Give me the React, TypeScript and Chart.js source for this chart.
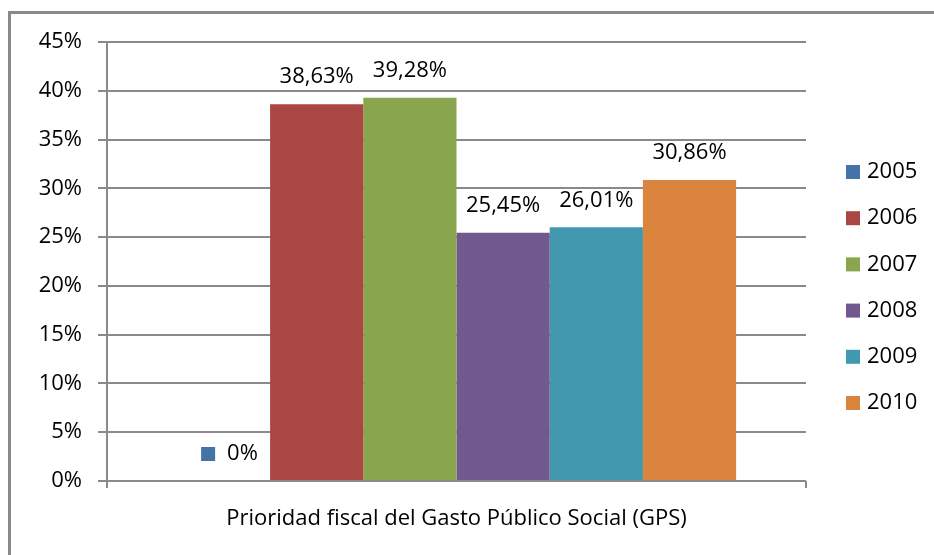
import React, { useEffect, useRef } from 'react';
import { Chart, registerables } from 'chart.js';

Chart.register(...registerables);

const categories = ['Prioridad fiscal del Gasto Público Social (GPS)'];
const years = ['2005', '2006', '2007', '2008', '2009', '2010'];
const values = [0, 38.63, 39.28, 25.45, 26.01, 30.86];
const colors = ['#4572A7', '#AA4643', '#89A54E', '#71588F', '#4198AF', '#DB843D'];
const yMax = 45;
const yStep = 5;

const FONT = 'Open Sans';
const GRID = '#8a8a8a';

const fmt = (v: number) => (v === 0 ? '0%' : v.toFixed(2).replace('.', ',') + '%');

const framePlugin = {
  id: 'frame',
  beforeDraw(chart: any) {
    const ctx = chart.ctx;
    ctx.save();
    ctx.fillStyle = '#ffffff';
    ctx.fillRect(0, 0, chart.width, chart.height);
    ctx.restore();
  },
  afterDraw(chart: any) {
    const ctx = chart.ctx;
    ctx.save();
    ctx.fillStyle = GRID;
    ctx.fillRect(8, 11, chart.width - 8, 3);
    ctx.fillRect(8, 11, 3, chart.height - 11);
    ctx.restore();
  },
};

const labelPlugin = {
  id: 'barLabels',
  afterDatasetsDraw(chart: any) {
    const ctx = chart.ctx;
    ctx.save();
    ctx.font = `22px "${FONT}"`;
    ctx.fillStyle = '#000';
    ctx.textBaseline = 'middle';
    chart.data.datasets.forEach((ds: any, i: number) => {
      const meta = chart.getDatasetMeta(i);
      const bar = meta.data[0];
      const v = ds.data[0];
      const txt = fmt(v);
      const y = bar.y - 27;
      if (v === 0) {
        const tw = ctx.measureText(txt).width;
        const total = 14 + 12 + tw;
        const left = bar.x - total / 2 + 6;
        ctx.fillStyle = ds.backgroundColor;
        ctx.fillRect(left, y - 7, 14, 14);
        ctx.fillStyle = '#000';
        ctx.textAlign = 'left';
        ctx.fillText(txt, left + 26, y);
      } else {
        ctx.textAlign = 'center';
        ctx.fillText(txt, bar.x, y);
      }
    });
    ctx.restore();
  },
};

const legendPlugin = {
  id: 'sideLegend',
  afterDraw(chart: any) {
    const ctx = chart.ctx;
    ctx.save();
    ctx.font = `22px "${FONT}"`;
    ctx.textBaseline = 'middle';
    ctx.textAlign = 'left';
    chart.data.datasets.forEach((ds: any, i: number) => {
      const y = 172 + i * 46.2;
      ctx.fillStyle = ds.backgroundColor;
      ctx.fillRect(846, y - 7, 14, 14);
      ctx.fillStyle = '#000';
      ctx.fillText(ds.label, 867, y);
    });
    ctx.restore();
  },
};

export default function App() {
  const ref = useRef<HTMLCanvasElement>(null);
  useEffect(() => {
    if (!ref.current) return;
    const chart = new Chart(ref.current, {
      type: 'bar',
      data: {
        labels: categories,
        datasets: years.map((y, i) => ({
          label: y,
          data: [values[i]],
          backgroundColor: colors[i],
          borderWidth: 0,
          categoryPercentage: 0.8,
          barPercentage: 1.0,
        })),
      },
      options: {
        responsive: false,
        animation: false,
        layout: { padding: { left: 0, top: 42, right: 128, bottom: 0 } },
        plugins: { legend: { display: false }, tooltip: { enabled: false } },
        scales: {
          x: {
            type: 'category',
            grid: {
              display: true,
              drawOnChartArea: false,
              drawTicks: true,
              tickLength: 7,
              color: GRID,
              lineWidth: 2,
              offset: true,
            },
            border: { display: false },
            ticks: { color: '#000', font: { family: FONT, size: 22 }, padding: 18 },
            afterFit: (s: any) => { s.height = 74; },
          },
          y: {
            min: 0,
            max: yMax,
            ticks: {
              stepSize: yStep,
              color: '#000',
              font: { family: FONT, size: 22 },
              padding: 16,
              callback: (v: any) => v + '%',
            },
            grid: { color: GRID, lineWidth: 2, tickLength: 9 },
            border: { display: true, color: GRID, width: 2 },
            afterFit: (s: any) => { s.width = 107; },
          },
        },
      },
      plugins: [framePlugin, labelPlugin, legendPlugin],
    });
    return () => chart.destroy();
  }, []);
  return (
    <div style={{ position: 'absolute', left: 0, top: 0, width: 934, height: 555 }}>
      <canvas ref={ref} width={934} height={555} style={{ width: 934, height: 555, display: 'block' }} />
    </div>
  );
}
